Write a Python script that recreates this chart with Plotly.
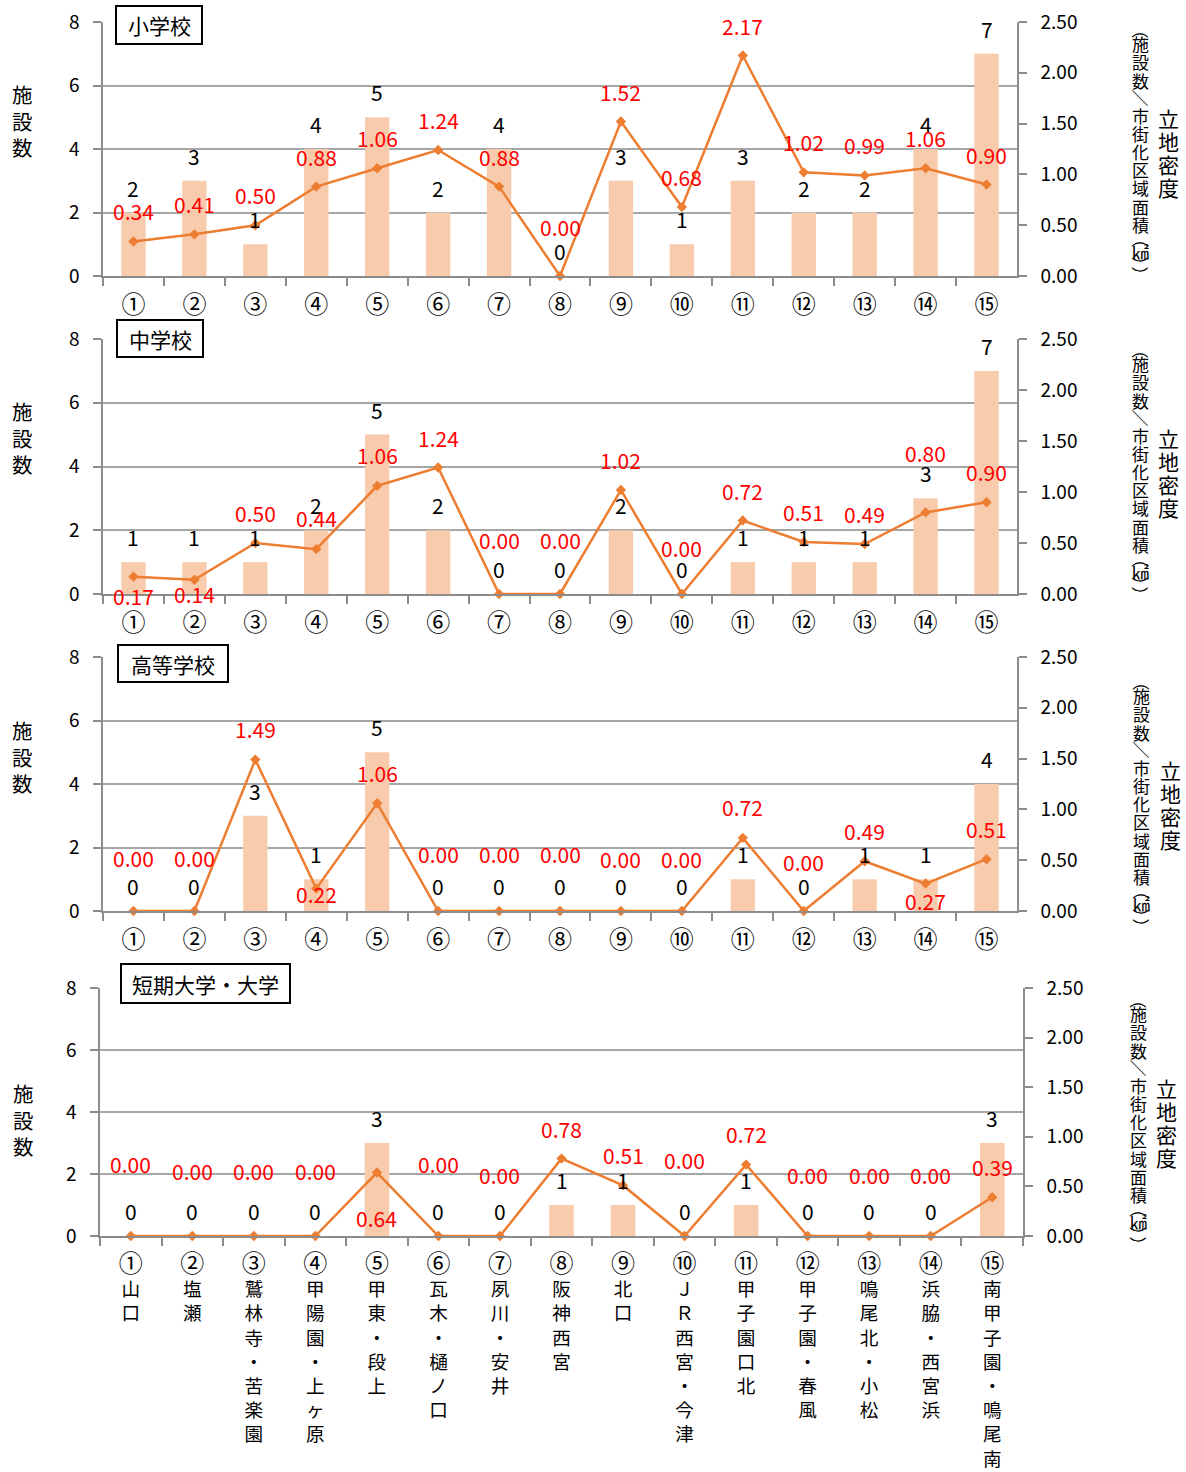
import plotly.graph_objects as go

W, H = 1186, 1472
FONT = "Noto Sans CJK JP"

# ---------------- data ----------------
categories = ["①", "②", "③", "④", "⑤", "⑥", "⑦", "⑧", "⑨", "⑩", "⑪", "⑫", "⑬", "⑭", "⑮"]
area_names = ["山口", "塩瀬", "鷲林寺・苦楽園", "甲陽園・上ヶ原", "甲東・段上", "瓦木・樋ノ口",
              "夙川・安井", "阪神西宮", "北口", "ＪＲ西宮・今津", "甲子園口北", "甲子園・春風",
              "鳴尾北・小松", "浜脇・西宮浜", "南甲子園・鳴尾南"]
panel_titles = ["小学校", "中学校", "高等学校", "短期大学・大学"]

elementary_counts = [2, 3, 1, 4, 5, 2, 4, 0, 3, 1, 3, 2, 2, 4, 7]
elementary_density = [0.34, 0.41, 0.50, 0.88, 1.06, 1.24, 0.88, 0.00, 1.52, 0.68, 2.17, 1.02, 0.99, 1.06, 0.90]

junior_counts = [1, 1, 1, 2, 5, 2, 0, 0, 2, 0, 1, 1, 1, 3, 7]
junior_density = [0.17, 0.14, 0.50, 0.44, 1.06, 1.24, 0.00, 0.00, 1.02, 0.00, 0.72, 0.51, 0.49, 0.80, 0.90]

high_counts = [0, 0, 3, 1, 5, 0, 0, 0, 0, 0, 1, 0, 1, 1, 4]
high_density = [0.00, 0.00, 1.49, 0.22, 1.06, 0.00, 0.00, 0.00, 0.00, 0.00, 0.72, 0.00, 0.49, 0.27, 0.51]

univ_counts = [0, 0, 0, 0, 3, 0, 0, 1, 1, 0, 1, 0, 0, 0, 3]
univ_density = [0.00, 0.00, 0.00, 0.00, 0.64, 0.00, 0.00, 0.78, 0.51, 0.00, 0.72, 0.00, 0.00, 0.00, 0.39]

all_counts = [elementary_counts, junior_counts, high_counts, univ_counts]
all_density = [elementary_density, junior_density, high_density, univ_density]

# ---------------- layout / style (page pixels) ----------------
plot_boxes = [(103, 1017, 22, 276), (103, 1017, 339, 594), (103, 1017, 657, 911), (100, 1023, 988, 1236)]
title_boxes = [(116, 202, 6, 44), (117, 203, 320, 357), (118, 228, 645, 682), (121, 290, 964, 1003)]
left_title_pos = [(22, 120), (22, 438), (22, 756), (23, 1119)]
right_title_pos = [(1168, 1140, 152), (1168, 1140, 472), (1170, 1141, 804), (1166, 1138, 1122)]

# pixel offset of the red density labels relative to their points
red_label_shift = [
    [30, 30, 30, 30, 30, 30, 30, 49, 30, 30, 30, 30, 30, 30, 30],
    [-19, -14, 30, 31, 31, 30, 54, 54, 30, 46, 30, 30, 30, 59, 30],
    [53, 53, 31, -5, 30, 57, 57, 57, 52, 52, 31, 49, 30, -17, 30],
    [72, 65, 65, 65, -45, 72, 61, 30, 30, 76, 31, 61, 61, 61, 30],
]
count_label_shift = 25

BAR_COLOR = "#F8CBAD"
LINE_COLOR = "#ED7D31"
GRID_COLOR = "#A6A6A6"
AXIS_COLOR = "#8C8C8C"
TICK_SIZE = 19
NAME_SIZE = 18.6
LABEL_SIZE = 21
CIRCLE_SIZE = 24

fig = go.Figure()
annotations = []
shapes = []
layout = dict(width=W, height=H, autosize=False, margin=dict(l=0, r=0, t=0, b=0),
              paper_bgcolor="white", plot_bgcolor="white", showlegend=False,
              template="none", bargap=0.6,
              font=dict(family=FONT, size=TICK_SIZE, color="#000000"))


def px_x(x):
    return x / W


def px_y(y):
    return 1 - y / H


def vtext(items, x, cy, size):
    total = sum(a for _, a, _ in items)
    y = cy - total / 2
    for ch, adv, rot in items:
        annotations.append(dict(text=ch, x=px_x(x), y=px_y(y + adv / 2), xref="paper", yref="paper",
                                showarrow=False, xanchor="center", yanchor="middle", textangle=rot,
                                font=dict(family=FONT, size=size, color="#000000")))
        y += adv


def circ(c):
    return f'<span style="font-size:{CIRCLE_SIZE}px">{c}</span>'


for i in range(4):
    n = "" if i == 0 else str(i + 1)
    xref = "x" + n
    yl_idx, yr_idx = 2 * i + 1, 2 * i + 2
    ylref = "y" if yl_idx == 1 else f"y{yl_idx}"
    yrref = f"y{yr_idx}"
    x0, x1, yt, yb = plot_boxes[i]

    counts = all_counts[i]
    dens = all_density[i]

    fig.add_trace(go.Bar(x=categories, y=counts, marker=dict(color=BAR_COLOR, line=dict(width=0)),
                         xaxis=xref, yaxis=ylref, hoverinfo="skip"))
    fig.add_trace(go.Scatter(x=categories, y=dens, mode="lines+markers",
                             line=dict(color=LINE_COLOR, width=2.5),
                             marker=dict(symbol="diamond", size=8, color=LINE_COLOR),
                             xaxis=xref, yaxis=yrref, cliponaxis=False, hoverinfo="skip"))

    if i == 3:
        ticktext = [circ(c) + "<br>" + "<br>".join(name) for c, name in zip(categories, area_names)]
        xfont = NAME_SIZE
    else:
        ticktext = [circ(c) for c in categories]
        xfont = TICK_SIZE
    layout["xaxis" + n] = dict(
        domain=[px_x(x0), px_x(x1)], anchor=ylref, type="category",
        categoryorder="array", categoryarray=categories, range=[-0.5, 14.5],
        showline=True, linecolor=AXIS_COLOR, linewidth=1.5, showgrid=False, zeroline=False,
        ticks="outside", tickson="boundaries", ticklen=8, tickcolor=AXIS_COLOR, tickwidth=1.5,
        tickmode="array", tickvals=categories, ticktext=ticktext, ticklabeloverflow="allow",
        tickfont=dict(family=FONT, size=xfont, color="#000000"), ticklabelstandoff=12)

    layout["yaxis" if yl_idx == 1 else f"yaxis{yl_idx}"] = dict(
        domain=[px_y(yb), px_y(yt)], anchor=xref, range=[0, 8], tick0=0, dtick=2,
        showgrid=True, gridcolor=GRID_COLOR, gridwidth=1.5, zeroline=False,
        showline=True, linecolor=AXIS_COLOR, linewidth=1.5, ticklabeloverflow="allow",
        ticks="outside", ticklen=8, tickcolor=AXIS_COLOR, tickwidth=1.5,
        tickfont=dict(family=FONT, size=TICK_SIZE, color="#000000"), ticklabelstandoff=10)
    layout[f"yaxis{yr_idx}"] = dict(
        overlaying=ylref, side="right", anchor=xref, range=[0, 2.5], tick0=0, dtick=0.5,
        tickformat=".2f", showgrid=False, zeroline=False,
        showline=True, linecolor=AXIS_COLOR, linewidth=1.5, ticklabeloverflow="allow",
        ticks="outside", ticklen=8, tickcolor=AXIS_COLOR, tickwidth=1.5,
        tickfont=dict(family=FONT, size=TICK_SIZE, color="#000000"), ticklabelstandoff=10)

    for c, v, d, s in zip(categories, counts, dens, red_label_shift[i]):
        annotations.append(dict(text=str(v), x=c, y=v, xref=xref, yref=ylref, showarrow=False,
                                yshift=count_label_shift, xanchor="center", yanchor="middle",
                                font=dict(family=FONT, size=LABEL_SIZE, color="#000000")))
        annotations.append(dict(text=f"{d:.2f}", x=c, y=d, xref=xref, yref=yrref, showarrow=False,
                                yshift=s, xanchor="center", yanchor="middle",
                                font=dict(family=FONT, size=LABEL_SIZE, color="#FF0000")))

    # title box
    bx0, bx1, by0, by1 = title_boxes[i]
    shapes.append(dict(type="rect", xref="paper", yref="paper", x0=px_x(bx0), x1=px_x(bx1),
                       y0=px_y(by1), y1=px_y(by0), line=dict(color="#000000", width=2),
                       fillcolor="white", layer="above"))
    annotations.append(dict(text=panel_titles[i], x=px_x((bx0 + bx1) / 2), y=px_y((by0 + by1) / 2),
                            xref="paper", yref="paper", showarrow=False, xanchor="center", yanchor="middle",
                            font=dict(family=FONT, size=21, color="#000000")))

    # left axis title
    lx, ly = left_title_pos[i]
    annotations.append(dict(text="施<br>設<br>数", x=px_x(lx), y=px_y(ly), xref="paper", yref="paper",
                            showarrow=False, xanchor="center", yanchor="middle",
                            font=dict(family=FONT, size=20.5, color="#000000")))

    # right axis titles (vertical writing)
    rx1, rx2, rcy = right_title_pos[i]
    vtext([(ch, 23, 0) for ch in "立地密度"], rx1, rcy, 21)
    k = 18.2
    vtext([("（", 10, 90), ("施", k, 0), ("設", k, 0), ("数", k, 0), ("／", 17, 90), ("市", k, 0),
           ("街", k, 0), ("化", k, 0), ("区", k, 0), ("域", k, 0), ("面", k, 0), ("積", k, 0),
           ("（", 10, 90), ("㎢", 16, 0), ("）", 10, 90), ("）", 10, 90)],
          rx2, rcy, 17)

layout["annotations"] = annotations
layout["shapes"] = shapes
fig.update_layout(**layout)
fig.write_html("out.html", config={"displayModeBar": False},
               post_script="document.body.style.margin='0';document.body.style.overflow='hidden';")
